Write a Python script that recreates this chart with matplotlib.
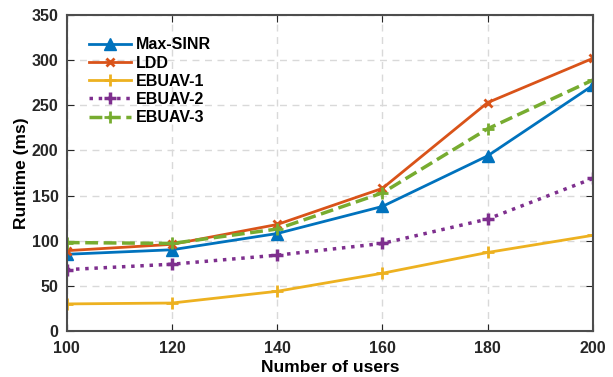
import matplotlib
matplotlib.use("Agg")
import matplotlib.pyplot as plt

users = [100, 120, 140, 160, 180, 200]
max_sinr = [85, 90, 108, 138, 194, 272]
ldd = [89, 96, 118, 158, 253, 302]
ebuav1 = [30, 31, 44, 64, 87, 106]
ebuav2 = [68, 74, 84, 97, 124, 169]
ebuav3 = [98, 97, 113, 153, 224, 278]

plt.rcParams['font.family'] = ['Liberation Sans', 'DejaVu Sans']
plt.rcParams['font.weight'] = 'bold'

fig = plt.figure(figsize=(6.13, 3.77), dpi=100)
ax = fig.add_axes([0.109, 0.122, 0.858, 0.838])

ax.plot(users, max_sinr, color='#0072BD', lw=2, marker='^', ms=8, label='Max-SINR')
ax.plot(users, ldd, color='#D95319', lw=2, marker='x', ms=6, mew=2, label='LDD')
ax.plot(users, ebuav1, color='#EDB120', lw=2, marker='+', ms=8, mew=2, label='EBUAV-1')
ax.plot(users, ebuav2, color='#7E2F8E', lw=2.5, ls=':', marker='+', ms=8, mew=2.5, label='EBUAV-2')
ax.plot(users, ebuav3, color='#77AC30', lw=2.5, ls='--', marker='+', ms=8, mew=2, label='EBUAV-3')

ax.set_xlim(100, 200)
ax.set_ylim(0, 350)
ax.set_xticks(users)
ax.set_yticks(range(0, 351, 50))
ax.grid(True, ls=(0, (5, 4)), color='#d9d9d9', lw=1)
ax.set_axisbelow(True)
ax.tick_params(direction='in', top=True, right=True, labelsize=11.5, colors='#262626', length=5)
ax.tick_params(axis='y', pad=6)
ax.tick_params(axis='x', pad=7)
for lbl in ax.get_xticklabels() + ax.get_yticklabels():
    lbl.set_fontweight('bold')
for s in ax.spines.values():
    s.set_color('#4d4d4d')
    s.set_linewidth(1.5)
ax.set_xlabel('Number of users', fontsize=12.5, fontweight='bold', labelpad=3)
ax.set_ylabel('Runtime (ms)', fontsize=12.5, fontweight='bold', labelpad=2)
leg = ax.legend(loc='upper left', frameon=False, fontsize=11.5, handlelength=2.6,
                labelspacing=0.2, borderaxespad=1.0, handletextpad=0.3)
for t in leg.get_texts():
    t.set_fontweight('bold')

fig.savefig('out.png', dpi=100)
